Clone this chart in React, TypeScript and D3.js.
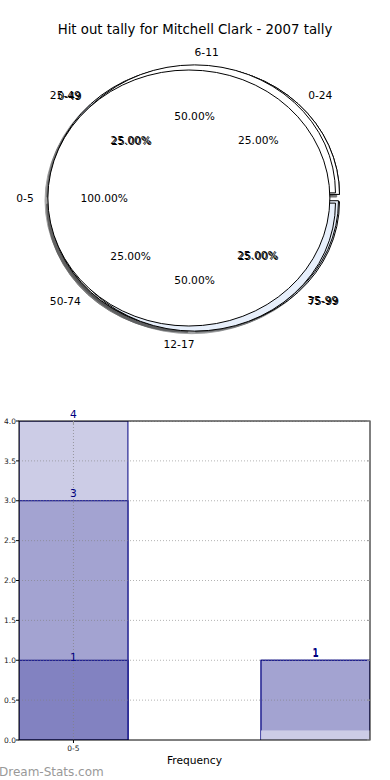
import React from 'react'
import * as d3 from 'd3'

const title = 'Hit out tally for Mitchell Clark - 2007 tally'

// pies, in the order they are drawn (the last one sits on top)
const pieLabelsB = ['0-24', '25-49', '50-74', '75-99']
const pieValuesB = [1, 1, 1, 1]
const pieLabelsC = ['', '0-49', '', '35-99']
const pieValuesC = [1, 1, 1, 1]
const pieLabelsA = ['6-11', '12-17']
const pieValuesA = [1, 1]
const pieLabelsD = ['0-5']
const pieValuesD = [1]

// bar chart
const barCategories = ['0-5', '']
const lightValues = [4, 1]
const midValues = [3, 1]
const darkValues = [1, 0]
const stripValues = [0, 0.12]
const yTicks = [0, 0.5, 1, 1.5, 2, 2.5, 3, 3.5, 4]

const FONT = 'DejaVu Sans, sans-serif'
const pieColors = ['#ffffff', '#e7effb']

const pies = [
  { labels: pieLabelsB, values: pieValuesB, explode: [0.04, 0.04, 0.04, 0.04] },
  { labels: pieLabelsC, values: pieValuesC, explode: [0.04, 0.03, 0.04, 0.03] },
  { labels: pieLabelsA, values: pieValuesA, explode: [0.04, 0.04] },
  { labels: pieLabelsD, values: pieValuesD, explode: [0.04] },
]

const PieChart = () => {
  const cx = 194.5
  const cy = 198
  const rx = 141
  const ry = 128
  const pieGen = d3
    .pie<number>()
    .sort(null)
    .startAngle(Math.PI / 2)
    .endAngle(Math.PI / 2 - 2 * Math.PI)
  const arcGen = d3.arc<d3.PieArcDatum<number>>().innerRadius(0).outerRadius(1)

  const wedges = pies.map((p) => {
    const total = d3.sum(p.values)
    return pieGen(p.values).map((a, i) => {
      const m = (a.startAngle + a.endAngle) / 2
      const theta = Math.PI / 2 - m
      const ux = Math.cos(theta)
      const uy = -Math.sin(theta)
      const e = p.explode[i]
      const ox = cx + e * rx * ux
      const oy = cy + e * ry * uy
      return {
        a,
        i,
        ox,
        oy,
        ux,
        uy,
        color: pieColors[i % pieColors.length],
        label: p.labels[i],
        pct: ((p.values[i] / total) * 100).toFixed(2) + '%',
      }
    })
  })
  const all = wedges.flat()

  return (
    <g>
      <text x={195} y={34} textAnchor='middle' fontFamily={FONT} fontSize={13.3}>
        {title}
      </text>
      {/* shadows below every wedge */}
      {all.map((w, k) => {
        const c = d3.rgb(w.color)
        const dark = d3.rgb(c.r * 0.3, c.g * 0.3, c.b * 0.3).toString()
        return (
          <path
            key={'s' + k}
            d={arcGen(w.a) || ''}
            transform={`translate(${w.ox - 0.02 * rx}, ${w.oy + 0.02 * ry}) scale(${rx}, ${ry})`}
            fill={dark}
            stroke={dark}
            strokeWidth={1}
            opacity={0.5}
            vectorEffect='non-scaling-stroke'
          />
        )
      })}
      {all.map((w, k) => (
        <path
          key={'w' + k}
          d={arcGen(w.a) || ''}
          transform={`translate(${w.ox}, ${w.oy}) scale(${rx}, ${ry})`}
          fill={w.color}
          stroke='#000'
          strokeWidth={1}
          vectorEffect='non-scaling-stroke'
        />
      ))}
      {all
        .filter((w) => w.label !== '')
        .map((w, k) => (
          <g key={'t' + k} fontFamily={FONT} fontSize={10.67} fill='#000'>
            <text
              x={w.ox + 1.1 * rx * w.ux}
              y={w.oy + 1.1 * ry * w.uy}
              dy='0.36em'
              textAnchor={w.ux > 0 ? 'start' : 'end'}
            >
              {w.label}
            </text>
            <text
              x={w.ox + 0.6 * rx * w.ux}
              y={w.oy + 0.6 * ry * w.uy}
              dy='0.36em'
              textAnchor='middle'
            >
              {w.pct}
            </text>
          </g>
        ))}
    </g>
  )
}

const BarChart = () => {
  const left = 19
  const right = 370
  const top = 421
  const bottom = 740
  const barWidth = 0.45
  const x = d3.scaleLinear().domain([-barWidth / 2, 1 + barWidth / 2]).range([left, right])
  const y = d3.scaleLinear().domain([0, 4]).range([bottom, top])
  const series = [
    { values: lightValues, fill: '#ccccE6', stroke: '#000080', labelDy: -3 },
    { values: midValues, fill: '#a3a3d1', stroke: '#000080', labelDy: -4 },
    { values: darkValues, fill: '#8282c1', stroke: '#000080', labelDy: 1 },
    { values: stripValues, fill: '#ccccE6', stroke: 'none', labelDy: null },
  ]
  return (
    <g>
      <defs>
        <clipPath id='plotClip'>
          <rect x={left} y={top} width={right - left} height={bottom - top} />
        </clipPath>
      </defs>
      <g clipPath='url(#plotClip)'>
        {series.map((s, si) =>
          s.values.map((v, i) =>
            v > 0 ? (
              <rect
                key={si + '-' + i}
                x={x(i - barWidth / 2)}
                y={y(v)}
                width={x(barWidth) - x(0)}
                height={y(0) - y(v)}
                fill={s.fill}
                stroke={s.stroke}
                strokeWidth={1}
              />
            ) : null
          )
        )}
        {yTicks.slice(1).map((t) => (
          <line
            key={'g' + t}
            x1={left}
            x2={right}
            y1={y(t)}
            y2={y(t)}
            stroke='#808080'
            strokeOpacity={0.6}
            strokeDasharray='1,2'
          />
        ))}
        <line
          x1={x(0)}
          x2={x(0)}
          y1={top}
          y2={bottom}
          stroke='#808080'
          strokeOpacity={0.7}
          strokeDasharray='1,2'
        />
      </g>
      <rect x={left} y={top} width={right - left} height={bottom - top} fill='none' stroke='#000' />
      {yTicks.map((t) => (
        <g key={'t' + t}>
          <line x1={left - 3} x2={left} y1={y(t)} y2={y(t)} stroke='#000' />
          <line x1={right - 3} x2={right} y1={y(t)} y2={y(t)} stroke='#999' />
          <text
            x={left - 3}
            y={y(t)}
            dy='0.35em'
            textAnchor='end'
            fontFamily={FONT}
            fontSize={7.5}
            fill='#222'
          >
            {d3.format('.1f')(t)}
          </text>
        </g>
      ))}
      <line x1={x(0)} x2={x(0)} y1={bottom} y2={bottom + 3} stroke='#000' />
      <line x1={x(0)} x2={x(0)} y1={top} y2={top + 3} stroke='#999' />
      <text x={x(0)} y={bottom + 10.5} textAnchor='middle' fontFamily={FONT} fontSize={7.5} fill='#222'>
        {barCategories[0]}
      </text>
      {series.map((s, si) =>
        s.labelDy === null
          ? null
          : s.values.map((v, i) =>
              v > 0 ? (
                <text
                  key={'l' + si + '-' + i}
                  x={x(i)}
                  y={y(v) + s.labelDy}
                  textAnchor='middle'
                  fontFamily={FONT}
                  fontSize={10.67}
                  fill='#000080'
                >
                  {v}
                </text>
              ) : null
            )
      )}
      <text x={194.5} y={764} textAnchor='middle' fontFamily={FONT} fontSize={10.67}>
        Frequency
      </text>
    </g>
  )
}

const App = () => {
  return (
    <div style={{ position: 'absolute', left: 0, top: 0 }}>
      <svg width={390} height={780} style={{ display: 'block', background: '#fff' }}>
        <PieChart />
        <BarChart />
        <text x={-1} y={776} fontFamily={FONT} fontSize={12} fill='#999'>
          Dream-Stats.com
        </text>
      </svg>
    </div>
  )
}

export default App
